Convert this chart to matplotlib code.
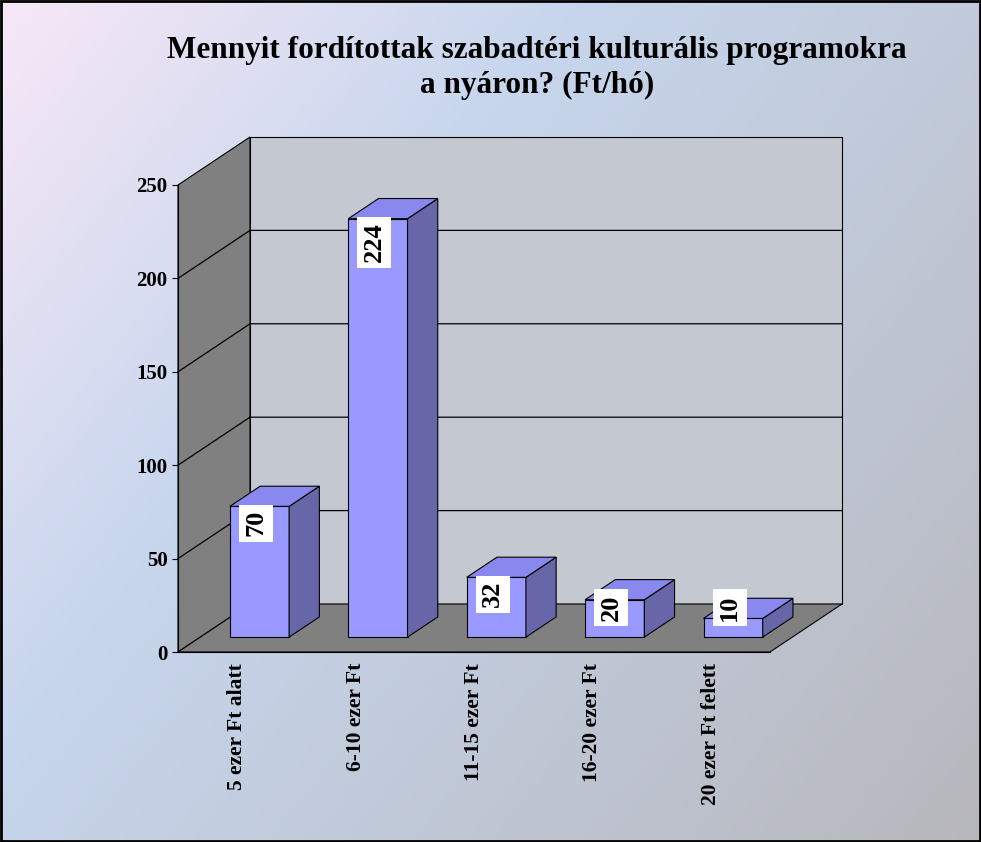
import numpy as np
import matplotlib
matplotlib.use('Agg')
from matplotlib import pyplot as plt
from matplotlib.patches import Polygon, Rectangle

categories = ['5 ezer Ft alatt', '6-10 ezer Ft', '11-15 ezer Ft', '16-20 ezer Ft', '20 ezer Ft felett']
values = [70, 224, 32, 20, 10]
yticks = [0, 50, 100, 150, 200, 250]
title = 'Mennyit fordítottak szabadtéri kulturális programokra\na nyáron? (Ft/hó)'

font = 'Liberation Serif'
fig = plt.figure(figsize=(9.81, 8.42), dpi=100)

# background gradient
bg = fig.add_axes([0, 0, 1, 1])
gx, gy = np.meshgrid(np.linspace(0, 1, 200), np.linspace(0, 1, 200))
t = np.clip(0.6 * gx + 0.4 * gy, 0, 1)
c0 = np.array([0.97, 0.91, 0.97])
c1 = np.array([0.78, 0.84, 0.93])
c2 = np.array([0.72, 0.72, 0.74])
img = np.where(t[..., None] < 0.35,
               c0 + (c1 - c0) * (t[..., None] / 0.35),
               c1 + (c2 - c1) * ((t[..., None] - 0.35) / 0.65))
bg.imshow(img, extent=[0, 1, 0, 1], aspect='auto', origin='upper')
bg.add_patch(Rectangle((0.001, 0.001), 0.998, 0.998, fill=False, lw=2, ec='black'))
bg.set_axis_off()

ax = fig.add_axes([178 / 981, 190 / 842, 592 / 981, 467 / 842])
n = len(categories)
ymax = 250
dx, dy = 0.608, 25.7

# walls and floor
ax.add_patch(Polygon([(dx, dy), (n + dx, dy), (n + dx, ymax + dy), (dx, ymax + dy)],
                     fc='#c4c8d0', ec='black', lw=0.8, clip_on=False, zorder=1))
ax.add_patch(Polygon([(0, 0), (dx, dy), (dx, ymax + dy), (0, ymax)],
                     fc='#808080', ec='black', lw=0.8, clip_on=False, zorder=1))
ax.add_patch(Polygon([(0, 0), (n, 0), (n + dx, dy), (dx, dy)],
                     fc='#808080', ec='black', lw=0.8, clip_on=False, zorder=1))
for v in yticks[1:-1]:
    ax.plot([0, dx, n + dx], [v, v + dy, v + dy], color='black', lw=0.9,
            clip_on=False, zorder=2)

f0, f1 = 0.31, 0.73
w = 0.5
for i, v in enumerate(values):
    x0 = i + 0.5 - w / 2 + f0 * dx
    y0 = f0 * dy
    x1 = x0 + w
    ddx, ddy = (f1 - f0) * dx, (f1 - f0) * dy
    ax.add_patch(Polygon([(x0, y0), (x1, y0), (x1, y0 + v), (x0, y0 + v)],
                         fc='#9999ff', ec='black', lw=0.8, clip_on=False, zorder=3))
    ax.add_patch(Polygon([(x1, y0), (x1 + ddx, y0 + ddy), (x1 + ddx, y0 + v + ddy), (x1, y0 + v)],
                         fc='#6666a8', ec='black', lw=0.8, clip_on=False, zorder=3))
    ax.add_patch(Polygon([(x0, y0 + v), (x1, y0 + v), (x1 + ddx, y0 + v + ddy), (x0 + ddx, y0 + v + ddy)],
                         fc='#8888ee', ec='black', lw=0.8, clip_on=False, zorder=3))
    ax.text(x0 + w / 2 - 0.03, y0 + max(v, 25) - 2, str(v), rotation=90, ha='center', va='top',
            fontfamily=font, fontweight='bold', fontsize=19, zorder=4,
            bbox=dict(fc='white', ec='none', pad=4))

ax.set_xlim(0, n)
ax.set_ylim(0, ymax)
ax.patch.set_visible(False)
for s in ['top', 'right']:
    ax.spines[s].set_visible(False)
ax.spines['left'].set_zorder(5)
ax.spines['bottom'].set_zorder(5)
ax.set_yticks(yticks)
ax.set_yticklabels([str(v) for v in yticks], fontfamily=font, fontweight='bold', fontsize=15)
ax.set_xticks(np.arange(n) + 0.5)
ax.set_xticklabels(categories, rotation=90, va='top', fontfamily=font, fontweight='bold', fontsize=15.5)
ax.tick_params(axis='x', length=0, pad=8)
ax.tick_params(axis='y', length=4, direction='out')

fig.text(537 / 981, 1 - 68 / 842, title, ha='center', va='center', fontfamily=font,
         fontweight='bold', fontsize=22.5, linespacing=1.25)

fig.savefig('out.png', dpi=100)
